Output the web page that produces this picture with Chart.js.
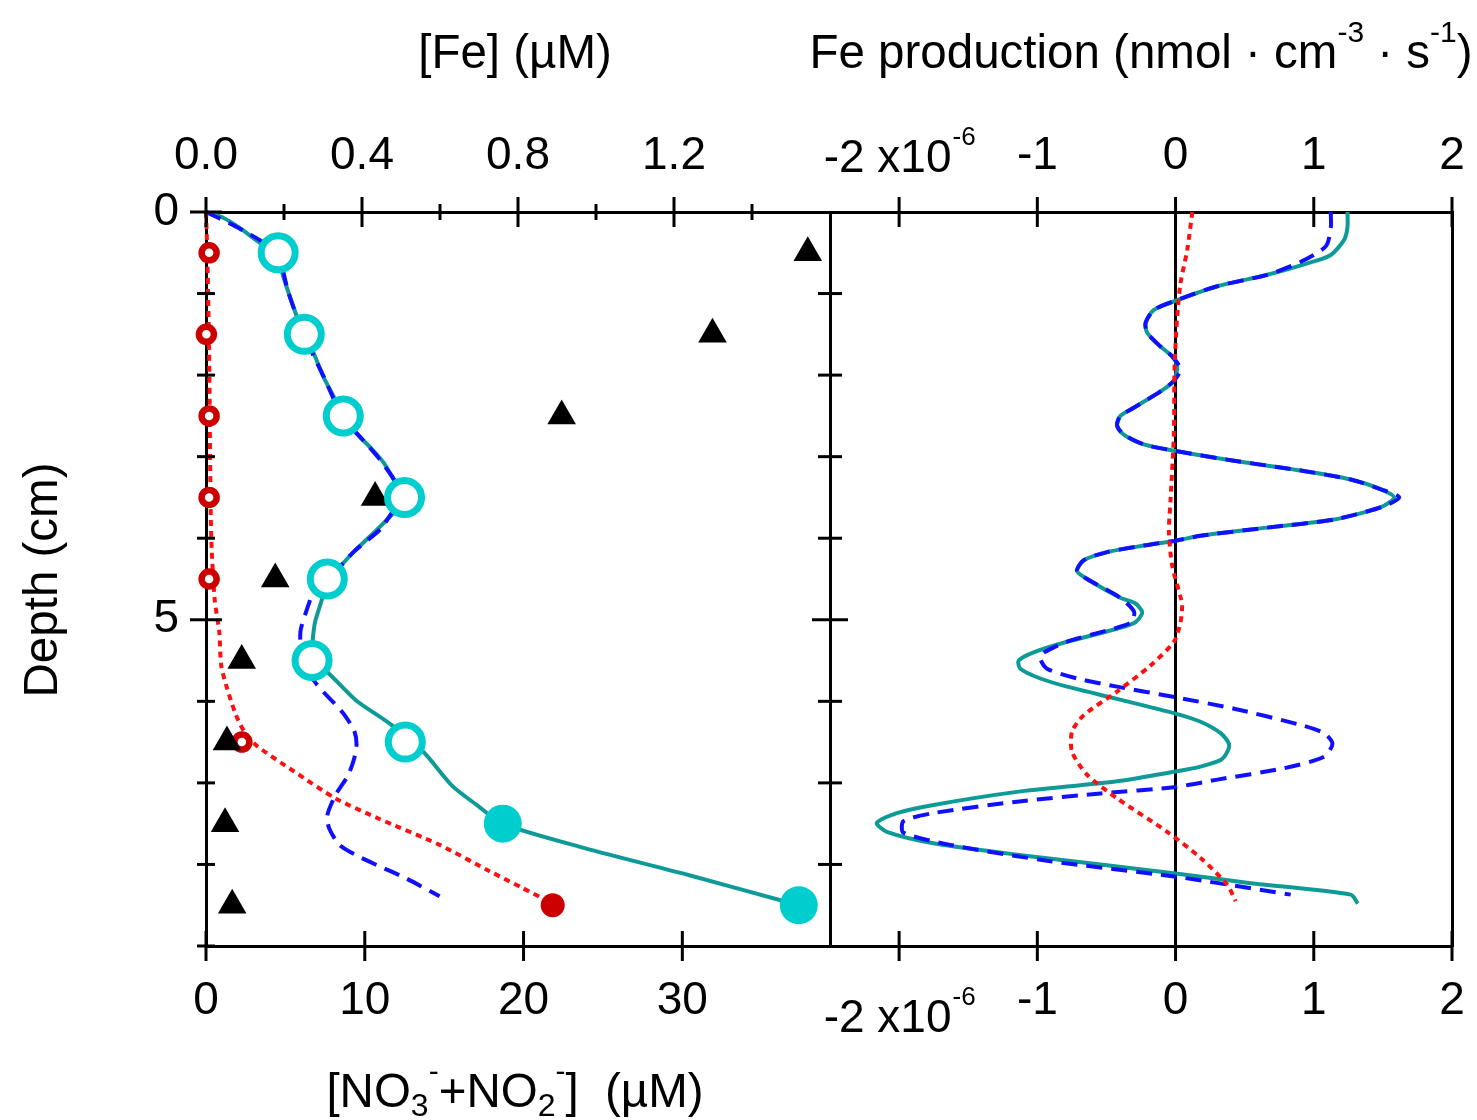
<!DOCTYPE html>
<html>
<head>
<meta charset="utf-8">
<title>Fe profiles and Fe production</title>
<script src="https://cdn.jsdelivr.net/npm/chart.js@4.4.1/dist/chart.umd.min.js"></script>
<style>
  html, body { margin: 0; padding: 0; background: #fff; }
  body { width: 1477px; height: 1120px; position: relative; overflow: hidden;
         font-family: "Liberation Sans", Arial, Helvetica, sans-serif; color: #000; }
  canvas { position: absolute; top: 0; }
  #leftChart { left: 0; }
  #rightChart { left: 810px; }
  .title { position: absolute; font-size: 47.5px; line-height: 46px; white-space: nowrap; text-align: center; }
  .sup { font-size: 30px; position: relative; top: -26px; }
  .sub { font-size: 32px; position: relative; top: 9px; }
</style>
</head>
<body>
<canvas id="leftChart" width="850" height="1120" style="width:850px;height:1120px"></canvas>
<canvas id="rightChart" width="667" height="1120" style="width:667px;height:1120px"></canvas>
<div class="title" style="left:315px; top:29px; width:400px;">[Fe] (µM)</div>
<div class="title" style="left:800px; top:29px; width:682px;">Fe production (nmol · cm<span class="sup">-3</span> · s<span class="sup">-1</span>)</div>
<div class="title" style="left:265px; top:1068px; width:500px;">[NO<span class="sub">3</span><span class="sup">-</span>+NO<span class="sub">2</span><span class="sup">-</span>]&nbsp; (µM)</div>
<div class="title" style="left:-109px; top:557px; width:300px; transform:rotate(-90deg);">Depth (cm)</div>
<script>
const FONT = '"Liberation Sans", Arial, Helvetica, sans-serif';
Chart.defaults.font.family = FONT;
Chart.defaults.color = '#000';

// axis ticks
const depthTicks = [0, 1, 2, 3, 4, 5, 6, 7, 8, 9];
const depthLabels = [0, 5];
const feTicks = [0, 0.2, 0.4, 0.6, 0.8, 1.0, 1.2, 1.4];
const feLabels = [0, 0.4, 0.8, 1.2];
const no3Labels = [0, 10, 20, 30];
const prodLabels = [-2, -1, 0, 1, 2];   // x10^-6

// measured profiles (left panel)
const feOpenDepth = [0.5, 1.5, 2.5, 3.5, 4.5, 5.5, 6.5];
const feOpen = [0.185, 0.252, 0.352, 0.509, 0.311, 0.272, 0.511];
const feFilledDepth = [7.5, 8.5];
const feFilled = [0.761, 1.52];
const no3Depth = [0.5, 1.5, 2.5, 3.5, 4.5, 5.5, 6.5, 7.5, 8.5];
const no3 = [37.9, 31.9, 22.4, 10.65, 4.36, 2.25, 1.32, 1.2, 1.65];
const redOpenDepth = [0.5, 1.5, 2.5, 3.5, 4.5, 6.5];
const redOpen = [0.008, 0.001, 0.008, 0.008, 0.008, 0.092];
const redFilledDepth = [8.5];
const redFilled = [0.889];

// model curves (left panel, [Fe] axis)
const tealDepth = [0, 0.07, 0.2, 0.38, 0.5, 0.79, 1.16, 1.5, 1.72, 2.02, 2.26, 2.5, 2.7, 2.89, 3.07, 3.28, 3.5,
  3.73, 3.97, 4.17, 4.34, 4.5, 4.74, 5.02, 5.23, 5.5, 5.64, 5.99, 6.31, 6.5, 6.61, 7.03, 7.27, 7.5, 7.8, 8.13, 8.5];
const tealFe = [0, 0.044, 0.088, 0.139, 0.182, 0.198, 0.224, 0.25, 0.275, 0.301, 0.327, 0.351, 0.383, 0.422, 0.455, 0.481, 0.511,
  0.473, 0.422, 0.378, 0.345, 0.31, 0.298, 0.28, 0.274, 0.271, 0.311, 0.385, 0.481, 0.511, 0.555, 0.63, 0.694, 0.76, 0.971, 1.237, 1.52];
const blueDepth = [0, 0.2, 0.5, 1.0, 1.5, 2.0, 2.5, 3.0, 3.3, 3.5, 3.7, 3.89, 4.17, 4.5, 4.68, 4.87, 5.15, 5.5,
  5.76, 5.88, 6.04, 6.16, 6.36, 6.53, 6.7, 6.91, 7.15, 7.4, 7.56, 7.76, 7.89, 8.01, 8.17, 8.39];
const blueFe = [0, 0.085, 0.18, 0.212, 0.25, 0.30, 0.35, 0.44, 0.485, 0.505, 0.475, 0.447, 0.378, 0.315, 0.275, 0.259, 0.242, 0.248,
  0.279, 0.30, 0.332, 0.354, 0.38, 0.386, 0.38, 0.364, 0.332, 0.311, 0.316, 0.342, 0.386, 0.439, 0.513, 0.599];
const redLineDepth = [0, 0.46, 1.69, 3.92, 4.74, 5.15, 5.56, 5.84, 6.17, 6.37, 6.54, 6.86, 7.19, 7.43, 7.76, 8.08, 8.29, 8.45, 8.5];
const redLineFe = [0, 0.003, 0.008, 0.013, 0.022, 0.034, 0.039, 0.054, 0.077, 0.098, 0.129, 0.226, 0.332, 0.439, 0.599, 0.726, 0.812, 0.876, 0.889];

// Fe production (right panel, x10^-6 nmol cm^-3 s^-1)
const prodTealDepth = [0, 0.18, 0.34, 0.53, 0.63, 0.77, 0.91, 1.08, 1.20, 1.36, 1.48, 1.65, 1.77, 1.89, 2.07, 2.20, 2.40,
  2.50, 2.62, 2.73, 2.85, 2.93, 3.05, 3.17, 3.28, 3.40, 3.50, 3.62, 3.77, 3.87, 3.97, 4.03, 4.09, 4.17, 4.27, 4.40, 4.50,
  4.73, 4.80, 4.91, 5.03, 5.11, 5.27, 5.40, 5.50, 5.60, 5.72, 5.82, 5.97, 6.15, 6.25, 6.39, 6.52, 6.62, 6.72, 6.80, 6.86,
  6.98, 7.11, 7.27, 7.37, 7.49, 7.60, 7.74, 7.88, 8.11, 8.23, 8.37, 8.48];
const prodTeal = [1.244, 1.244, 1.22, 1.12, 0.954, 0.664, 0.302, 0.012, -0.157, -0.217, -0.205, -0.109, -0.024, 0.012, -0.012, -0.109, -0.302,
  -0.399, -0.423, -0.375, -0.23, 0, 0.423, 0.906, 1.268, 1.486, 1.582, 1.486, 1.147, 0.664, 0.181, 0, -0.23, -0.495, -0.664, -0.713, -0.64,
  -0.40, -0.29, -0.241, -0.29, -0.423, -0.785, -1.027, -1.135, -1.123, -0.978, -0.785, -0.423, 0, 0.181, 0.326, 0.386, 0.374, 0.326, 0.181, 0,
  -0.423, -1.147, -1.751, -2.017, -2.162, -2.089, -1.751, -1.147, 0, 0.543, 1.268, 1.319];
const prodBlueDepth = [0, 0.2, 0.42, 0.61, 0.77, 0.91, 1.08, 1.20, 1.36, 1.48, 1.65, 1.77, 1.93, 2.07, 2.20, 2.40, 2.50, 2.62,
  2.73, 2.85, 2.93, 3.05, 3.17, 3.28, 3.40, 3.50, 3.62, 3.77, 3.87, 3.97, 4.03, 4.09, 4.17, 4.27, 4.40, 4.50, 4.73, 4.90,
  5.03, 5.11, 5.27, 5.40, 5.47, 5.60, 5.72, 5.82, 5.95, 6.09, 6.29, 6.39, 6.52, 6.68, 6.82, 6.96, 7.05, 7.13, 7.23, 7.37,
  7.47, 7.61, 7.76, 7.96, 8.15, 8.37];
const prodBlue = [1.123, 1.123, 1.087, 0.906, 0.664, 0.302, 0.012, -0.157, -0.217, -0.205, -0.109, -0.024, 0.036, -0.012, -0.109, -0.302, -0.399, -0.423,
  -0.375, -0.23, 0, 0.423, 0.906, 1.268, 1.486, 1.618, 1.486, 1.147, 0.664, 0.181, 0, -0.23, -0.495, -0.664, -0.713, -0.64, -0.40, -0.30,
  -0.32, -0.45, -0.79, -0.95, -0.98, -0.93, -0.713, -0.423, 0, 0.423, 0.906, 1.075, 1.135, 1.075, 0.785, 0.302, 0, -0.543, -1.147, -1.751,
  -1.969, -1.969, -1.63, -0.906, 0, 0.833];
const prodRedDepth = [0, 0.46, 0.87, 1.28, 1.89, 2.71, 3.52, 3.93, 4.34, 4.72, 4.82, 5.03, 5.27, 5.56, 5.88, 6.17, 6.37, 6.62,
  6.90, 7.19, 7.60, 7.92, 8.25, 8.45];
const prodRed = [0.121, 0.085, 0.036, 0.012, -0.007, -0.012, -0.036, -0.048, -0.024, 0.036, 0.048, 0.036, -0.012, -0.181, -0.423, -0.664, -0.749, -0.749,
  -0.64, -0.423, -0.06, 0.181, 0.374, 0.435];

const CYAN = '#00cdcd', TEAL = '#0e9a96', BLUE = '#1010ff', RED = '#ff1010', DARKRED = '#cc0000';

const pts = (xs, ys) => xs.map((x, i) => ({ x: x, y: ys[i] }));

function markers(data, xAxisID, opts) {
  return Object.assign({ data: data, xAxisID: xAxisID, yAxisID: 'y', showLine: false, clip: false }, opts);
}
function curve(data, xAxisID, color, width, dash) {
  return {
    data: data, xAxisID: xAxisID, yAxisID: 'y', showLine: true, pointRadius: 0, clip: false,
    borderColor: color, borderWidth: width, borderDash: dash, tension: 0.25, fill: false
  };
}

// ticks drawn across the axis line, like the original plot
function crossTicks(specs) {
  return {
    id: 'crossTicks',
    afterDraw(chart) {
      const ctx = chart.ctx, area = chart.chartArea;
      ctx.save();
      ctx.strokeStyle = '#000';
      ctx.lineWidth = 3;
      specs.forEach(s => {
        const scale = chart.scales[s.scale];
        s.values.forEach(v => {
          const p = scale.getPixelForValue(v);
          const half = s.major.includes(v) ? s.big : s.small;
          ctx.beginPath();
          if (s.edge === 'top' || s.edge === 'bottom') {
            const y = s.edge === 'top' ? area.top : area.bottom;
            ctx.moveTo(p, y - half); ctx.lineTo(p, y + half);
          } else {
            const x = s.edge === 'left' ? area.left : area.right;
            ctx.moveTo(x - half, p); ctx.lineTo(x + half, p);
          }
          ctx.stroke();
        });
      });
      ctx.restore();
    }
  };
}

// fix the box size of an axis and drop the label overflow padding chart.js adds
function fixedSize(prop, size) {
  return scale => {
    scale[prop] = size;
    scale.paddingLeft = scale.paddingRight = scale.paddingTop = scale.paddingBottom = 0;
  };
}
function setTicks(values) {
  return scale => { scale.ticks = values.map(v => ({ value: v })); };
}
const tickFont = { size: 46, family: FONT };
const border = { display: true, color: '#000', width: 3 };
const noGrid = { display: false, drawTicks: false };

// left panel
new Chart(document.getElementById('leftChart'), {
  type: 'scatter',
  data: {
    datasets: [
      markers(pts(feOpen, feOpenDepth), 'xFe', { pointStyle: 'circle', pointRadius: 17, pointBorderWidth: 7,
        pointBorderColor: CYAN, pointBackgroundColor: '#fff' }),
      markers(pts(feFilled, feFilledDepth), 'xFe', { pointStyle: 'circle', pointRadius: 19, pointBorderWidth: 0,
        pointBackgroundColor: CYAN }),
      markers(pts(no3, no3Depth), 'xN', { pointStyle: 'triangle', pointRadius: 16.5, pointBorderWidth: 0,
        pointBackgroundColor: '#000' }),
      markers(pts(redOpen, redOpenDepth), 'xFe', { pointStyle: 'circle', pointRadius: 7.5, pointBorderWidth: 6.5,
        pointBorderColor: DARKRED, pointBackgroundColor: '#fff' }),
      markers(pts(redFilled, redFilledDepth), 'xFe', { pointStyle: 'circle', pointRadius: 12, pointBorderWidth: 0,
        pointBackgroundColor: DARKRED }),
      curve(pts(redLineFe, redLineDepth), 'xFe', RED, 4, [6, 5]),
      curve(pts(blueFe, blueDepth), 'xFe', BLUE, 4, [16, 9]),
      curve(pts(tealFe, tealDepth), 'xFe', TEAL, 4, [])
    ]
  },
  options: {
    responsive: false, animation: false, devicePixelRatio: 1,
    layout: { padding: 0, autoPadding: false },
    plugins: { legend: { display: false }, tooltip: { enabled: false } },
    scales: {
      y: {
        type: 'linear', position: 'left', reverse: true, min: 0, max: 9,
        afterBuildTicks: setTicks(depthLabels), afterFit: fixedSize('width', 206),
        ticks: { font: tickFont, padding: 27, autoSkip: false, callback: v => String(v) },
        grid: noGrid, border: border
      },
      yR: {
        type: 'linear', position: 'right', reverse: true, min: 0, max: 9,
        afterFit: fixedSize('width', 20), ticks: { display: false }, grid: noGrid, border: border
      },
      xFe: {
        type: 'linear', position: 'top', min: 0, max: 1.6,
        afterBuildTicks: setTicks(feLabels), afterFit: fixedSize('height', 212),
        ticks: { font: tickFont, padding: 28, autoSkip: false, maxRotation: 0, callback: v => v.toFixed(1) },
        grid: noGrid, border: border
      },
      xN: {
        type: 'linear', position: 'bottom', min: 0, max: 39.3,
        afterBuildTicks: setTicks(no3Labels), afterFit: fixedSize('height', 174),
        ticks: { font: tickFont, padding: 28, autoSkip: false, maxRotation: 0, callback: v => String(v) },
        grid: noGrid, border: border
      }
    }
  },
  plugins: [crossTicks([
    { scale: 'xFe', edge: 'top', values: feTicks, major: feLabels, big: 15, small: 8 },
    { scale: 'xN', edge: 'bottom', values: no3Labels, major: no3Labels, big: 15, small: 15 },
    { scale: 'y', edge: 'left', values: depthTicks, major: depthLabels, big: 16, small: 9 },
    { scale: 'yR', edge: 'right', values: depthTicks.slice(1, -1), major: depthLabels, big: 18, small: 12 }
  ])]
});

// "-2 x10^-6" labels with a real superscript
const exponentLabel = {
  id: 'exponentLabel',
  afterDraw(chart) {
    const ctx = chart.ctx, area = chart.chartArea;
    const x = chart.scales.xp.getPixelForValue(prodLabels[0]);
    const main = prodLabels[0] + ' x10', sup = '-6';
    ctx.save();
    ctx.fillStyle = '#000';
    ctx.textBaseline = 'alphabetic';
    ctx.textAlign = 'left';
    ctx.font = '46px ' + FONT;
    const w1 = ctx.measureText(main).width;
    ctx.font = '26px ' + FONT;
    const w2 = ctx.measureText(sup).width;
    const x0 = x - (w1 + w2) / 2;
    [[area.top - 40, area.top - 67], [area.bottom + 86, area.bottom + 59]].forEach(([base, supBase]) => {
      ctx.font = '46px ' + FONT;
      ctx.fillText(main, x0, base);
      ctx.font = '26px ' + FONT;
      ctx.fillText(sup, x0 + w1 + 1, supBase);
    });
    ctx.restore();
  }
};

const prodTickLabel = v => (v === prodLabels[0] ? '' : String(v));

// right panel
new Chart(document.getElementById('rightChart'), {
  type: 'scatter',
  data: {
    datasets: [
      curve(pts(prodRed, prodRedDepth), 'xp', RED, 4, [6, 5]),
      curve(pts(prodBlue, prodBlueDepth), 'xp', BLUE, 4, [16, 9]),
      curve(pts(prodTeal, prodTealDepth), 'xp', TEAL, 4, [])
    ]
  },
  options: {
    responsive: false, animation: false, devicePixelRatio: 1,
    layout: { padding: 0, autoPadding: false },
    plugins: { legend: { display: false }, tooltip: { enabled: false } },
    scales: {
      y: {
        type: 'linear', position: 'left', reverse: true, min: 0, max: 9,
        afterFit: fixedSize('width', 20), ticks: { display: false }, grid: noGrid,
        border: { display: false }
      },
      yR: {
        type: 'linear', position: 'right', reverse: true, min: 0, max: 9,
        afterFit: fixedSize('width', 25), ticks: { display: false }, grid: noGrid, border: border
      },
      xp: {
        type: 'linear', position: 'top', min: -2.5, max: 2,
        afterBuildTicks: setTicks(prodLabels), afterFit: fixedSize('height', 212),
        ticks: { font: tickFont, padding: 28, autoSkip: false, maxRotation: 0, callback: prodTickLabel },
        grid: {
          display: true, drawTicks: false, drawOnChartArea: true, lineWidth: 3,
          color: c => (c.tick && c.tick.value === 0 ? '#000' : 'rgba(0,0,0,0)')
        },
        border: border
      },
      xpB: {
        type: 'linear', position: 'bottom', min: -2.5, max: 2,
        afterBuildTicks: setTicks(prodLabels), afterFit: fixedSize('height', 174),
        ticks: { font: tickFont, padding: 28, autoSkip: false, maxRotation: 0, callback: prodTickLabel },
        grid: noGrid, border: border
      }
    }
  },
  plugins: [exponentLabel, crossTicks([
    { scale: 'xp', edge: 'top', values: prodLabels, major: prodLabels, big: 15, small: 15 },
    { scale: 'xpB', edge: 'bottom', values: prodLabels, major: prodLabels, big: 15, small: 15 }
  ])]
});
</script>
</body>
</html>
